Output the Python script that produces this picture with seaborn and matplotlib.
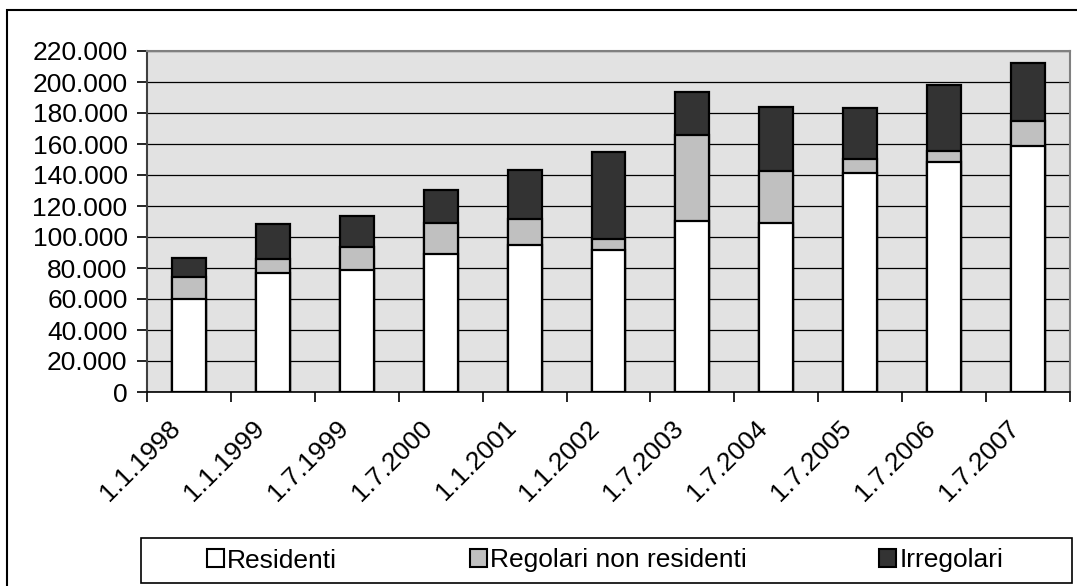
import matplotlib
matplotlib.use("Agg")
import matplotlib.pyplot as plt
import matplotlib.transforms as mtransforms
from matplotlib.patches import Patch, Rectangle
from matplotlib.ticker import FuncFormatter, FixedLocator
import seaborn as sns
import pandas as pd

# data
dates = ["1.1.1998", "1.1.1999", "1.7.1999", "1.7.2000", "1.1.2001", "1.1.2002",
         "1.7.2003", "1.7.2004", "1.7.2005", "1.7.2006", "1.7.2007"]
residenti = [60000, 76500, 79000, 89000, 94800, 91900, 110200, 109300, 141400, 148300, 158600]
regolari = [14000, 9600, 14400, 20200, 16500, 6900, 55400, 33100, 8800, 7500, 16500]
irregolari = [12200, 22400, 20200, 21400, 31800, 56100, 27800, 41700, 33300, 42300, 37000]

df = pd.DataFrame({"data": dates, "Residenti": residenti,
                   "Regolari non residenti": regolari, "Irregolari": irregolari})
df["res_reg"] = df["Residenti"] + df["Regolari non residenti"]
df["totale"] = df["res_reg"] + df["Irregolari"]

plt.rcParams["font.family"] = ["Liberation Sans", "DejaVu Sans"]
plt.rcParams["font.size"] = 19

fig = plt.figure(figsize=(10.77, 5.86), dpi=100)
ax = fig.add_axes([147 / 1077, 1 - 392 / 586, (1070 - 147) / 1077, (392 - 51) / 586])
ax.set_facecolor("#e2e2e2")

bar_kw = dict(edgecolor="black", linewidth=1.6, width=0.405, saturation=1, ax=ax, zorder=3)
# stacked look: draw totals first, then the lower parts on top
sns.barplot(data=df, x="data", y="totale", color="#333333", **bar_kw)
sns.barplot(data=df, x="data", y="res_reg", color="#c0c0c0", **bar_kw)
sns.barplot(data=df, x="data", y="Residenti", color="white", **bar_kw)

ax.set_xlim(-0.5, len(dates) - 0.5)
ax.set_ylim(0, 220000)
ax.set_yticks(range(0, 220001, 20000))
ax.yaxis.set_major_formatter(FuncFormatter(lambda v, p: f"{int(v):,}".replace(",", ".")))
ax.set_xlabel("")
ax.set_ylabel("")

ax.yaxis.grid(True, color="black", linewidth=0.9)
ax.set_axisbelow(True)

# tick marks between categories, labels at centres
ax.xaxis.set_minor_locator(FixedLocator([i - 0.5 for i in range(len(dates) + 1)]))
ax.tick_params(axis="x", which="minor", length=7, width=1.2, color="black", direction="out")
ax.tick_params(axis="x", which="major", length=0, pad=17)
ax.tick_params(axis="y", length=7, width=1.2, pad=7)
ax.set_xticks(range(len(dates)))
ax.set_xticklabels(dates, rotation=45, ha="right", va="top")
shift = mtransforms.ScaledTranslation(-4 / 100, 0, fig.dpi_scale_trans)
for lab in ax.get_xticklabels():
    lab.set_transform(lab.get_transform() + shift)

for side in ["top", "right"]:
    ax.spines[side].set_color("#808080")
    ax.spines[side].set_linewidth(1.5)
ax.spines["left"].set_color("#404040")
ax.spines["left"].set_linewidth(1.5)
ax.spines["bottom"].set_color("black")
ax.spines["bottom"].set_linewidth(1.2)

# legend box and entries
fig.patches.append(Rectangle((141 / 1077, 1 - 583 / 586), (1072 - 141) / 1077, 45 / 586,
                             transform=fig.transFigure, fill=False, edgecolor="black",
                             linewidth=1.2))
entries = [("Residenti", "white", 207), ("Regolari non residenti", "#c0c0c0", 470),
           ("Irregolari", "#333333", 879)]
for name, col, xpix in entries:
    fig.legend(handles=[Patch(facecolor=col, edgecolor="black", linewidth=1.5, label=name)],
               loc="center left", bbox_to_anchor=(xpix / 1077, 1 - 560.5 / 586),
               frameon=False, borderpad=0, borderaxespad=0, handlelength=0.65,
               handleheight=0.65, handletextpad=0.12, fontsize=19)

# outer chart border (cut off at right and bottom)
fig.patches.append(Rectangle((7 / 1077, -0.05), 1.2, 1 - 10 / 586 + 0.05,
                             transform=fig.transFigure, fill=False, edgecolor="black",
                             linewidth=1.5))

fig.savefig("out.png", dpi=100)
